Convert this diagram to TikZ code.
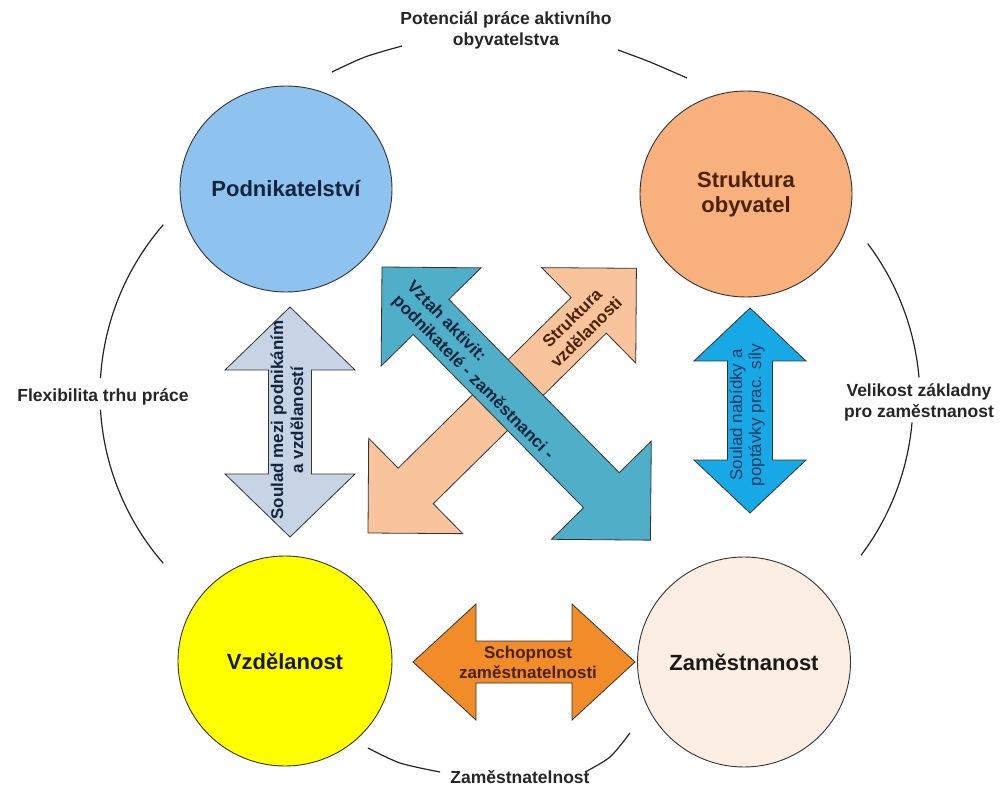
\documentclass[tikz,border=0pt]{standalone}
\usepackage{fontspec}
\setmainfont{Liberation Sans}
\usetikzlibrary{shapes.geometric}
\definecolor{cPod}{HTML}{8DC3EE}
\definecolor{cStr}{HTML}{F8B07C}
\definecolor{cVzd}{HTML}{FFFF00}
\definecolor{cZam}{HTML}{FDEEE3}
\definecolor{cArrL}{HTML}{C6D4E6}
\definecolor{cArrR}{HTML}{17A9E6}
\definecolor{cArrO}{HTML}{F28C28}
\definecolor{cArrP}{HTML}{F9C39B}
\definecolor{cArrB}{HTML}{4FAFC8}
\definecolor{cNavy}{HTML}{14243C}
\definecolor{cBrown}{HTML}{4A2208}
\definecolor{cDBlue}{HTML}{1F3864}
\newcommand\dblarr[7]{\path[#1,shift={(#2)},rotate=#3] (0,0) -- (#5,#6) -- (#5,#7) -- ({#4-#5},#7) -- ({#4-#5},#6) -- (#4,0) -- ({#4-#5},-#6) -- ({#4-#5},-#7) -- (#5,-#7) -- (#5,-#6) -- cycle;}
\tikzset{
  circ/.style={ellipse, draw=black!80, line width=0.9pt, inner sep=0pt, font=\fontsize{22}{25}\selectfont\bfseries, align=center},
  arcline/.style={draw=black!85, line width=1.2pt},
  outlbl/.style={font=\fontsize{17.5}{21}\selectfont\bfseries, text=black!85, align=center, inner sep=1pt},
  arrbox/.style={draw=black!80, line width=0.8pt},
  arrlbl/.style={font=\fontsize{17}{20}\selectfont\bfseries, align=center, inner sep=0pt},
  arrlblr/.style={font=\fontsize{17}{19}\selectfont, align=center, inner sep=0pt}
}
\begin{document}
\begin{tikzpicture}[x=1pt,y=-1pt]
\fill[white] (0,0) rectangle (1001,791);
\useasboundingbox (0,0) rectangle (1001,791);
% outer arcs
\draw[arcline] plot[smooth] coordinates {(332,72) (365,57) (402,46)};
\draw[arcline] plot[smooth] coordinates {(618,50) (650,62) (687,78)};
\draw[arcline] plot[domain=183.5:221, samples=40] ({358+258*cos(\x)},{394+258*sin(\x)});
\draw[arcline] plot[domain=176.5:139, samples=40] ({358+258*cos(\x)},{394+258*sin(\x)});
\draw[arcline] plot[domain=-37:-5, samples=40] ({660+260*cos(\x)},{400+260*sin(\x)});
\draw[arcline] plot[domain=5:37, samples=40] ({655+258*cos(\x)},{400+258*sin(\x)});
\draw[arcline] plot[smooth] coordinates {(368,748) (400,763) (440,772)};
\draw[arcline] plot[smooth] coordinates {(585,772) (610,757) (630,733)};
% outer labels
\node[outlbl] (lt) at (506,30) {Potenciál práce aktivního\\obyvatelstva};
\node[outlbl] (ll) at (103,397) {Flexibilita trhu práce};
\node[outlbl] (lr) at (919,402) {Velikost základny\\pro zaměstnanost};
\node[outlbl] (lb) at (520,777) {Zaměstnatelnost};
% circles
\node[circ, fill=cPod, text=cNavy, minimum width=212, minimum height=206] (pod) at (286,189) {Podnikatelství};
\node[circ, fill=cStr, text=cBrown, minimum width=212, minimum height=206] (str) at (746,194) {Struktura\\obyvatel};
\node[circ, fill=cVzd, text=black!90, minimum width=214, minimum height=210] (vzd) at (285,661) {Vzdělanost};
\node[circ, fill=cZam, text=black!90, minimum width=213, minimum height=210] (zam) at (744,662) {Zaměstnanost};
% arrows
\dblarr{arrbox,fill=cArrL}{290,307}{-90}{230}{63}{65}{21.5}
\dblarr{arrbox,fill=cArrR}{750,308}{-90}{205}{53}{56}{22.5}
\dblarr{arrbox,fill=cArrO}{413,662}{0}{222}{63}{58}{21}
\dblarr{arrbox,fill=cArrP}{368,533}{44.6}{377}{67}{67}{25}
\dblarr{arrbox,fill=cArrB}{382,267}{-45.5}{383}{70}{70}{25}
% arrow labels
\node[arrlbl, rotate=90, text=cNavy] (t1) at (287,420) {Soulad mezi podnikáním\\a vzdělaností};
\node[arrlblr, rotate=90, text=cDBlue] (t2) at (747,415) {Soulad nabídky a\\poptávky prac. síly};
\node[arrlbl, text=cBrown] (t3) at (528,662) {Schopnost\\zaměstnatelnosti};
\node[arrlbl, rotate=-45.5, align=left, text=cNavy] (t4) at (480,371) {Vztah aktivit:\\podnikatelé - zaměstnanci -};
\node[arrlbl, rotate=44.6, text=cBrown] (t5) at (579,325) {Struktura\\vzdělanosti};
\end{tikzpicture}
\end{document}
